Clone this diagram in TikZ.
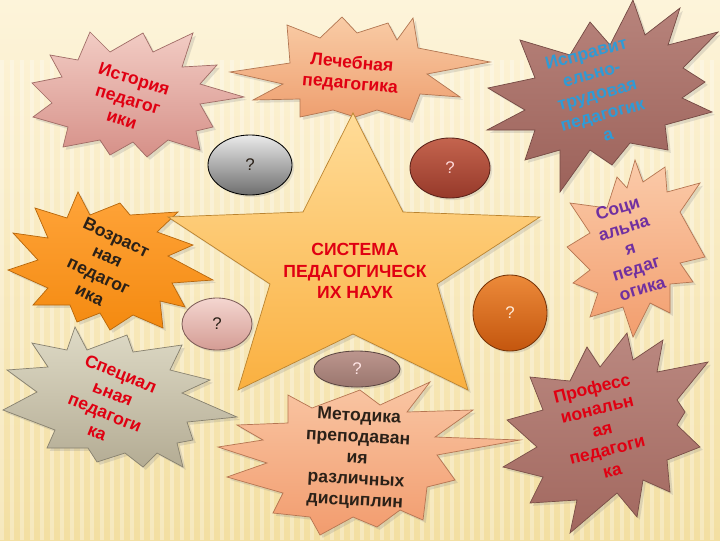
\documentclass[tikz,border=0pt]{standalone}
\usepackage{fontspec}
\setmainfont{Liberation Sans}
\usetikzlibrary{shapes.geometric,shadows}
\definecolor{bgtop}{HTML}{FDF4DA}
\definecolor{bgbot}{HTML}{F3DFA2}
\definecolor{redtxt}{HTML}{E00012}
\definecolor{bluetxt}{HTML}{2F9BD6}
\definecolor{purptxt}{HTML}{7030A0}
\definecolor{darktxt}{HTML}{2B2118}
\begin{document}
\begin{tikzpicture}[x=0.025cm, y=-0.025cm,
  blast/.style 2 args={/utils/exec={\definecolor{filltop}{HTML}{#1}\definecolor{fillbot}{HTML}{#2}},
    top color=filltop, bottom color=fillbot, draw=fillbot!75!black, line width=0.5pt, line join=miter,
    drop shadow={opacity=0.22, shadow xshift=2pt, shadow yshift=-2pt}},
  oval/.style 2 args={/utils/exec={\definecolor{filltop}{HTML}{#1}\definecolor{fillbot}{HTML}{#2}},
    ellipse, top color=filltop, bottom color=fillbot, draw=fillbot!60!black, line width=0.6pt, inner sep=0pt,
    font=\fontsize{12}{14}\selectfont, drop shadow={opacity=0.2, shadow xshift=1.5pt, shadow yshift=-1.5pt}},
  txt/.style={align=center, inner sep=0pt, font=\bfseries\fontsize{12.5}{15}\selectfont}]
\useasboundingbox (0,0) rectangle (720,540);
\shade[top color=bgtop, bottom color=bgbot] (0,0) rectangle (720,540);
\foreach \x in {0,10,...,720}
  \fill[white, opacity=0.3] (\x,60) rectangle ++(4,480);

\path[blast={F2CCC4}{D69088}] (90,32) -- (110,52) -- (143,33) -- (153,52) -- (193,33) -- (182,67) -- (217,65) -- (200,84) -- (244,97) -- (200,104) -- (213,127) -- (196,131) -- (200,150) -- (168,140) -- (147,157) -- (133,142) -- (110,155) -- (100,140) -- (63,147) -- (68,127) -- (33,117) -- (52,103) -- (32,83) -- (62,77) -- (50,55) -- (78,60) -- cycle;
\path[blast={F9CCA6}{EE9E6E}] (230,72) -- (290,63) -- (287,25) -- (320,38) -- (342,17) -- (357,33) -- (388,23) -- (397,40) -- (413,18) -- (418,48) -- (490,62) -- (427,74) -- (460,97) -- (420,94) -- (410,120) -- (377,110) -- (355,117) -- (333,110) -- (300,117) -- (300,99) -- (253,100) -- (283,84) -- cycle;
\path[blast={B8847C}{9C625A}] (633,0) -- (645,35) -- (680,8) -- (668,45) -- (718,32) -- (683,68) -- (705,82) -- (682,98) -- (712,112) -- (665,125) -- (668,150) -- (630,143) -- (612,165) -- (590,150) -- (560,192) -- (560,150) -- (525,160) -- (535,130) -- (487,130) -- (525,110) -- (488,88) -- (535,78) -- (520,40) -- (570,55) -- (590,22) -- (610,45) -- cycle;
\path[blast={FFA43A}{F48A10}] (78,192) -- (90,215) -- (120,203) -- (130,215) -- (178,212) -- (157,232) -- (193,245) -- (168,256) -- (213,280) -- (172,283) -- (185,307) -- (160,301) -- (163,328) -- (133,315) -- (110,330) -- (100,313) -- (77,322) -- (70,305) -- (33,305) -- (48,288) -- (8,270) -- (38,260) -- (13,233) -- (48,238) -- (35,208) -- (67,218) -- cycle;
\path[blast={DEDAC6}{B4AC94}] (75,327) -- (87,350) -- (127,335) -- (133,352) -- (182,345) -- (170,370) -- (210,380) -- (182,393) -- (237,417) -- (187,422) -- (193,440) -- (177,443) -- (183,467) -- (157,453) -- (143,467) -- (125,453) -- (97,462) -- (88,448) -- (47,448) -- (55,430) -- (3,410) -- (37,392) -- (7,370) -- (48,367) -- (32,343) -- (67,350) -- cycle;
\path[blast={BA8880}{A2685F}] (627,333) -- (633,360) -- (663,340) -- (657,372) -- (708,362) -- (677,400) -- (685,412) -- (677,425) -- (700,447) -- (667,460) -- (670,492) -- (643,480) -- (637,517) -- (617,493) -- (570,533) -- (577,500) -- (530,503) -- (543,477) -- (503,467) -- (537,447) -- (507,420) -- (543,410) -- (530,377) -- (570,381) -- (587,347) -- (600,367) -- cycle;
\path[blast={FBCBAA}{F29E6E}] (635,160) -- (643,182) -- (665,167) -- (667,192) -- (700,183) -- (680,212) -- (705,257) -- (680,263) -- (693,282) -- (670,284) -- (670,313) -- (650,303) -- (633,337) -- (623,307) -- (590,317) -- (598,293) -- (573,283) -- (590,270) -- (567,247) -- (590,233) -- (570,203) -- (607,208) -- (617,177) -- (627,188) -- cycle;

\path[blast={FFDC98}{FAB040}] (353,113) -- (403,212) -- (540,217) -- (437,284) -- (468,390) -- (353,334) -- (238,390) -- (270,284) -- (168,217) -- (303,212) -- cycle;

\path[blast={F9C6A4}{F29C6E}] (288,395) -- (312,408) -- (360,390) -- (380,405) -- (430,382) -- (407,412) -- (473,410) -- (435,437) -- (520,440) -- (437,455) -- (455,480) -- (427,487) -- (423,520) -- (400,510) -- (377,527) -- (353,517) -- (320,535) -- (310,517) -- (273,513) -- (283,493) -- (227,477) -- (267,463) -- (218,447) -- (263,440) -- (237,425) -- (288,423) -- cycle;

\node (q1)[oval={EAEAEA}{6E6E6E}, draw=black, text=darktxt, minimum width=2.1cm, minimum height=1.5cm] at (250,165) {?};
\node (q2)[oval={C4644E}{96392A}, text=white!85!red, minimum width=2cm, minimum height=1.5cm] at (450,168) {?};
\node (q3)[oval={F4D6D0}{D49C94}, text=darktxt, minimum width=1.75cm, minimum height=1.3cm] at (217,324) {?};
\node (q4)[oval={EC8A3A}{C4560E}, text=white!85!orange, minimum width=1.85cm, minimum height=1.9cm] at (510,313) {?};
\node (q5)[oval={BC968E}{9A766E}, text=white!90!red, minimum width=2.15cm, minimum height=0.9cm] at (357,369) {?};

\node (sys)[txt, redtxt] at (355,271) {СИСТЕМА\\ПЕДАГОГИЧЕСК\\ИХ НАУК};
\node (hist)[txt, redtxt, rotate=-17] at (128,99) {История\\педагог\\ики};
\node (lech)[txt, redtxt, rotate=-5] at (351,74) {Лечебная\\педагогика};
\node (ispr)[txt, bluetxt, rotate=15] at (597,94) {Исправит\\ельно-\\трудовая\\педагогик\\а};
\node (vozr)[txt, darktxt, rotate=-25] at (103,266) {Возраст\\ная\\педагог\\ика};
\node (soc)[txt, purptxt, rotate=17] at (630,248) {Соци\\альна\\я\\педаг\\огика};
\node (spec)[txt, redtxt, rotate=-22] at (109,403) {Специал\\ьная\\педагоги\\ка};
\node (metod)[txt, darktxt, rotate=-3] at (357,459) {Методика\\преподаван\\ия\\различных\\дисциплин};
\node (prof)[txt, redtxt, rotate=14] at (602,429) {Професс\\иональн\\ая\\педагоги\\ка};
\end{tikzpicture}
\end{document}
